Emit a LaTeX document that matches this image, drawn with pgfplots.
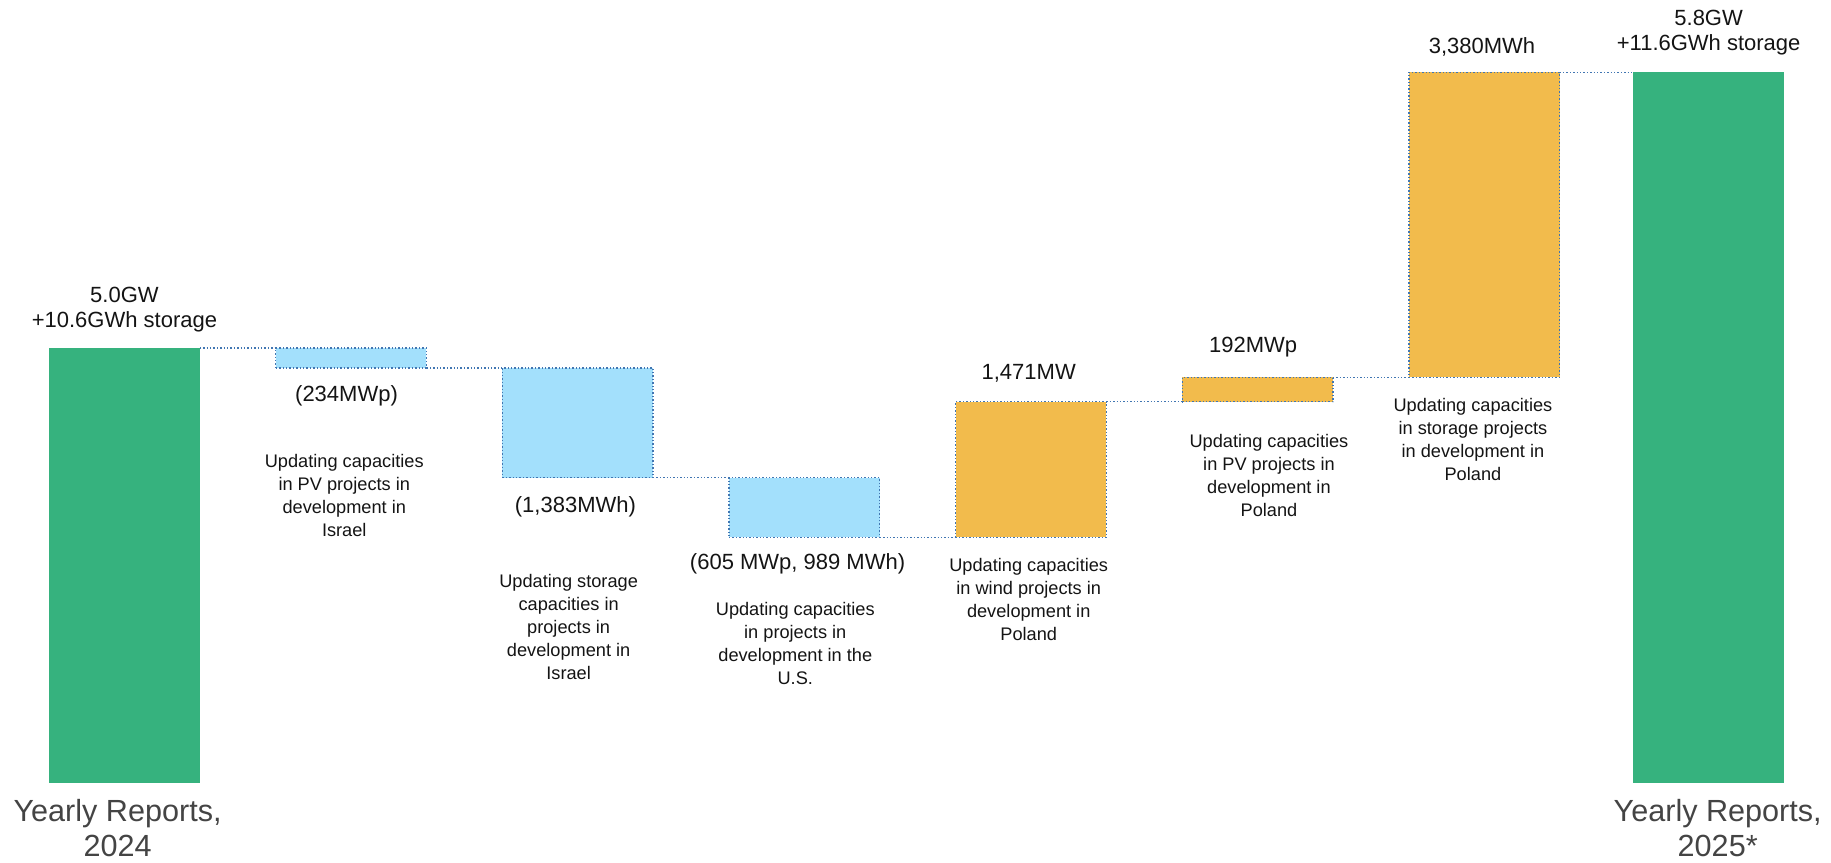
\documentclass[border=0pt]{standalone}
\usepackage{pgfplots}
\pgfplotsset{compat=1.18}
\usepackage{fontspec}
\setmainfont{Liberation Sans}
\definecolor{cgreen}{RGB}{54,178,126}
\definecolor{cblue}{RGB}{163,224,252}
\definecolor{corange}{RGB}{242,187,76}
\definecolor{cborder}{RGB}{65,118,178}
\definecolor{cgray}{RGB}{68,68,68}
\definecolor{ctext}{RGB}{20,20,20}
\tikzset{
  desc/.style={align=center, text=ctext, font=\fontsize{9.1}{11.5}\selectfont},
  val/.style={align=center, text=ctext, font=\fontsize{11}{12.8}\selectfont},
  cat/.style={align=center, text=cgray, font=\fontsize{15.3}{17.5}\selectfont},
  blue bar/.style={fill=cblue, draw=cborder, line width=0.7pt, densely dotted},
  orange bar/.style={fill=corange, draw=cborder, line width=0.7pt, densely dotted},
  conn/.style={draw=cborder, line width=0.7pt, densely dotted},
}
\begin{document}
\begin{tikzpicture}
\begin{axis}[
  width=915.5pt, height=431pt, scale only axis,
  xmin=-0.549, xmax=7.530, ymin=-68, ymax=670,
  hide axis, clip=false,
]
% totals
\addplot[fill=cgreen, draw=none] coordinates {(-0.3325,0) (0.3325,0) (0.3325,372) (-0.3325,372)} -- cycle;
\addplot[fill=cgreen, draw=none] coordinates {(6.6575,0) (7.3225,0) (7.3225,608) (6.6575,608)} -- cycle;
% decreases
\addplot[blue bar] coordinates {(0.6675,355) (1.3325,355) (1.3325,372) (0.6675,372)} -- cycle;
\addplot[blue bar] coordinates {(1.6675,261) (2.3325,261) (2.3325,355) (1.6675,355)} -- cycle;
\addplot[blue bar] coordinates {(2.6675,210) (3.3325,210) (3.3325,261) (2.6675,261)} -- cycle;
% increases
\addplot[orange bar] coordinates {(3.6675,210) (4.3325,210) (4.3325,326) (3.6675,326)} -- cycle;
\addplot[orange bar] coordinates {(4.6675,326) (5.3325,326) (5.3325,347) (4.6675,347)} -- cycle;
\addplot[orange bar] coordinates {(5.6675,347) (6.3325,347) (6.3325,608) (5.6675,608)} -- cycle;
% connectors
\addplot[conn] coordinates {(0.3325,372) (0.6675,372)};
\addplot[conn] coordinates {(1.3325,355) (1.6675,355)};
\addplot[conn] coordinates {(2.3325,261) (2.6675,261)};
\addplot[conn] coordinates {(3.3325,210) (3.6675,210)};
\addplot[conn] coordinates {(4.3325,326) (4.6675,326)};
\addplot[conn] coordinates {(5.3325,347) (5.6675,347)};
\addplot[conn] coordinates {(6.3325,608) (6.6575,608)};
% value labels
\node[val] at (axis cs:0,405) {5.0GW\\+10.6GWh storage};
\node[val] at (axis cs:0.98,331) {(234MWp)};
\node[val] at (axis cs:1.99,236) {(1,383MWh)};
\node[val] at (axis cs:2.97,187) {(605 MWp, 989 MWh)};
\node[val] at (axis cs:3.99,350) {1,471MW};
\node[val] at (axis cs:4.98,373) {192MWp};
\node[val] at (axis cs:5.99,630) {3,380MWh};
\node[val] at (axis cs:6.99,642) {5.8GW\\+11.6GWh storage};
% descriptions
\node[desc] at (axis cs:0.97,245.5) {Updating capacities\\in PV projects in\\development in\\Israel};
\node[desc] at (axis cs:1.96,133) {Updating storage\\capacities in\\projects in\\development in\\Israel};
\node[desc] at (axis cs:2.96,119) {Updating capacities\\in projects in\\development in the\\U.S.};
\node[desc] at (axis cs:3.99,157) {Updating capacities\\in wind projects in\\development in\\Poland};
\node[desc] at (axis cs:5.05,262.5) {Updating capacities\\in PV projects in\\development in\\Poland};
\node[desc] at (axis cs:5.95,294) {Updating capacities\\in storage projects\\in development in\\Poland};
% categories
\node[cat] at (axis cs:-0.03,-39) {Yearly Reports,\\2024};
\node[cat] at (axis cs:7.03,-39) {Yearly Reports,\\2025*};
\end{axis}
\pgfresetboundingbox
\path (current axis.south west) rectangle (current axis.north east);
\end{tikzpicture}
\end{document}
